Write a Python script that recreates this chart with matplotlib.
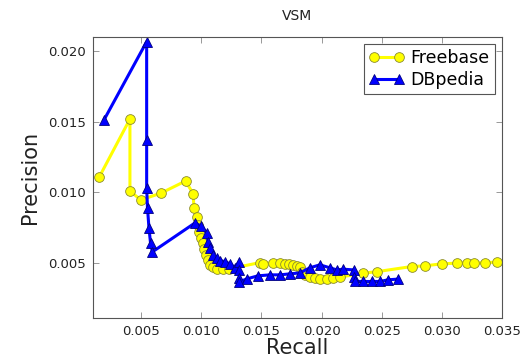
import matplotlib
matplotlib.use("Agg")
import matplotlib.pyplot as plt

# Freebase (yellow circles)
freebase_recall = [0.0015, 0.00407, 0.00407, 0.00496, 0.00663, 0.0087, 0.00933, 0.00939,
                   0.00962, 0.00975, 0.00983, 0.00995, 0.01012, 0.01022, 0.01039, 0.01058,
                   0.01072, 0.01097, 0.0113, 0.01178, 0.0123, 0.01488, 0.01515, 0.01598,
                   0.01654, 0.01696, 0.01731, 0.01765, 0.01798, 0.0182, 0.01834, 0.01862,
                   0.01903, 0.01945, 0.01986, 0.02042, 0.02097, 0.02153, 0.02346, 0.02464,
                   0.02748, 0.02859, 0.02998, 0.03122, 0.03205, 0.03266, 0.03358, 0.03455]
freebase_precision = [0.01105, 0.01519, 0.0101, 0.00946, 0.00993, 0.0108, 0.00988, 0.00887,
                      0.00828, 0.00769, 0.00722, 0.00677, 0.00642, 0.00599, 0.00557, 0.00521,
                      0.00486, 0.00472, 0.0046, 0.00455, 0.00457, 0.00502, 0.00493, 0.00502,
                      0.00498, 0.00493, 0.00491, 0.00486, 0.00479, 0.00474, 0.00438, 0.00415,
                      0.00399, 0.00392, 0.00389, 0.00389, 0.00392, 0.00399, 0.00427, 0.00438,
                      0.00474, 0.00479, 0.00493, 0.00498, 0.00502, 0.00498, 0.00502, 0.00505]

# DBpedia (blue triangles)
dbpedia_recall = [0.00191, 0.00546, 0.00546, 0.00546, 0.00553, 0.00565, 0.00578, 0.00594,
                  0.00948, 0.00995, 0.01045, 0.01056, 0.01072, 0.01097, 0.01128, 0.01155,
                  0.01197, 0.01238, 0.0128, 0.01316, 0.01316, 0.01316, 0.01316, 0.0138,
                  0.01471, 0.01571, 0.01654, 0.01737, 0.0182, 0.01903, 0.01986, 0.02069,
                  0.02128, 0.0218, 0.02269, 0.02269, 0.02277, 0.02346, 0.02416, 0.02485,
                  0.02554, 0.02637]
dbpedia_precision = [0.01512, 0.02067, 0.01371, 0.01029, 0.00889, 0.00748, 0.00642, 0.00578,
                     0.00783, 0.00762, 0.00712, 0.00651, 0.00606, 0.00557, 0.00535, 0.00516,
                     0.00509, 0.00493, 0.00465, 0.00509, 0.0045, 0.00394, 0.00365, 0.00387,
                     0.00408, 0.00415, 0.00415, 0.00422, 0.00429, 0.00465, 0.00486, 0.00465,
                     0.0045, 0.00455, 0.0045, 0.0040, 0.00368, 0.00368, 0.00368, 0.00368,
                     0.0038, 0.00385]

x_ticks = [0.005, 0.010, 0.015, 0.020, 0.025, 0.030, 0.035]
y_ticks = [0.005, 0.010, 0.015, 0.020]

fig = plt.figure(figsize=(5.24, 3.58), dpi=100)
ax = fig.add_axes([0.1775, 0.112, 0.7805, 0.7846])

ax.plot(freebase_recall, freebase_precision, color='yellow', linewidth=2.2,
        marker='o', markersize=7, markerfacecolor='yellow', markeredgecolor='#8a8a30',
        markeredgewidth=0.6, label='Freebase')
ax.plot(dbpedia_recall, dbpedia_precision, color='blue', linewidth=2.2,
        marker='^', markersize=7, markerfacecolor='blue', markeredgecolor='#000080',
        markeredgewidth=0.6, label='DBpedia')

ax.set_xlim(0.001, 0.035)
ax.set_ylim(0.0011, 0.021)
ax.set_xticks(x_ticks)
ax.set_yticks(y_ticks)
ax.set_xticklabels(['%.3f' % t for t in x_ticks])
ax.set_yticklabels(['%.3f' % t for t in y_ticks])
ax.tick_params(direction='in', top=True, right=True, length=4, width=0.6,
               color='#888888', labelsize=9.5, labelcolor='#222222', pad=5)
for s in ax.spines.values():
    s.set_color('#555555')
    s.set_linewidth(0.8)

ax.set_xlabel('Recall', fontsize=15, color='#222222', labelpad=0)
ax.set_ylabel('Precision', fontsize=15, color='#222222', labelpad=6)
ax.set_title('VSM', fontsize=10, color='#222222', pad=12)

leg = ax.legend(loc='upper right', numpoints=2, fontsize=12.5, handlelength=2.0,
                handletextpad=0.4, borderpad=0.3, labelspacing=0.2,
                borderaxespad=0.4, fancybox=False, framealpha=1)
leg.get_frame().set_edgecolor('#555555')
leg.get_frame().set_linewidth(0.8)

fig.savefig('out.png', dpi=100)
